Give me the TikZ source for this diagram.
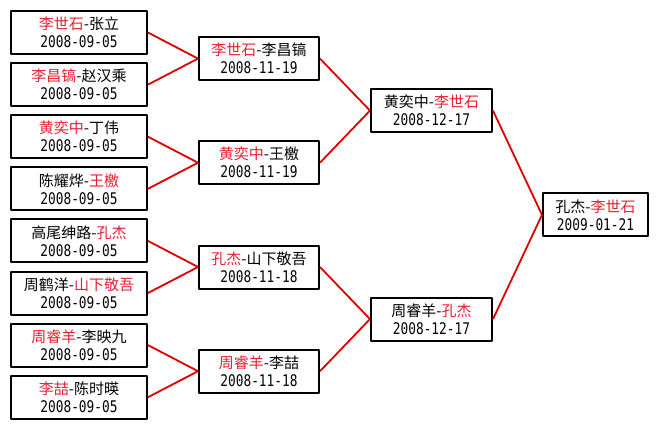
\documentclass[tikz,border=0pt]{standalone}
\usepackage{fontspec}
\newfontfamily\cjk{Noto Sans CJK SC}
\newfontfamily\datefont[FakeStretch=0.8]{DejaVu Sans Mono}
\definecolor{winred}{RGB}{228,32,48}
\definecolor{linered}{RGB}{222,0,0}
\newcommand{\rd}[1]{\textcolor{winred}{#1}}
\newcommand{\dt}[1]{{\datefont\fontsize{16}{18}\selectfont #1}}
\begin{document}
\begin{tikzpicture}[x=1pt, y=-1pt, line join=round,
    game/.style={draw, line width=2pt, rectangle, inner sep=0pt,
      minimum height=43pt, align=center,
      font=\cjk\fontsize{15}{18}\selectfont},
    round1/.style={game, minimum width=136pt},
    round2/.style={game, minimum width=120pt},
    round3/.style={game, minimum width=121pt},
    final/.style={game, minimum width=105pt},
    link/.style={draw=linered, line width=1.8pt}]
  % Khung
  \fill[white] (0,0) rectangle (659,429);
  \useasboundingbox (0,0) rectangle (659,429);

  % Vòng 1
  \node[round1] (a1) at (79,32.5)  {\rd{李世石}-张立\\\dt{2008-09-05}};
  \node[round1] (a2) at (79,84.6)  {\rd{李昌镐}-赵汉乘\\\dt{2008-09-05}};
  \node[round1] (a3) at (79,136.7) {\rd{黄奕中}-丁伟\\\dt{2008-09-05}};
  \node[round1] (a4) at (79,188.8) {陈耀烨-\rd{王檄}\\\dt{2008-09-05}};
  \node[round1] (a5) at (79,240.9) {高尾绅路-\rd{孔杰}\\\dt{2008-09-05}};
  \node[round1] (a6) at (79,293)   {周鹤洋-\rd{山下敬吾}\\\dt{2008-09-05}};
  \node[round1] (a7) at (79,345.1) {\rd{周睿羊}-李映九\\\dt{2008-09-05}};
  \node[round1] (a8) at (79,397.2) {\rd{李喆}-陈时暎\\\dt{2008-09-05}};

  % Vòng 2
  \node[round2] (b1) at (259,58.6)  {\rd{李世石}-李昌镐\\\dt{2008-11-19}};
  \node[round2] (b2) at (259,162.7) {\rd{黄奕中}-王檄\\\dt{2008-11-19}};
  \node[round2] (b3) at (259,267)   {\rd{孔杰}-山下敬吾\\\dt{2008-11-18}};
  \node[round2] (b4) at (259,371.2) {\rd{周睿羊}-李喆\\\dt{2008-11-18}};

  % Vòng 3
  \node[round3] (c1) at (431.5,110.6) {黄奕中-\rd{李世石}\\\dt{2008-12-17}};
  \node[round3] (c2) at (431.5,319.1) {周睿羊-\rd{孔杰}\\\dt{2008-12-17}};

  % Chung kết
  \node[final] (d1) at (595.5,214.9) {孔杰-\rd{李世石}\\\dt{2009-01-21}};

  % Đường nối
  \foreach \from/\to in {a1/b1, a2/b1, a3/b2, a4/b2, a5/b3, a6/b3, a7/b4, a8/b4,
                         b1/c1, b2/c1, b3/c2, b4/c2, c1/d1, c2/d1}
    \draw[link] (\from.east) -- (\to.west);
\end{tikzpicture}
\end{document}
